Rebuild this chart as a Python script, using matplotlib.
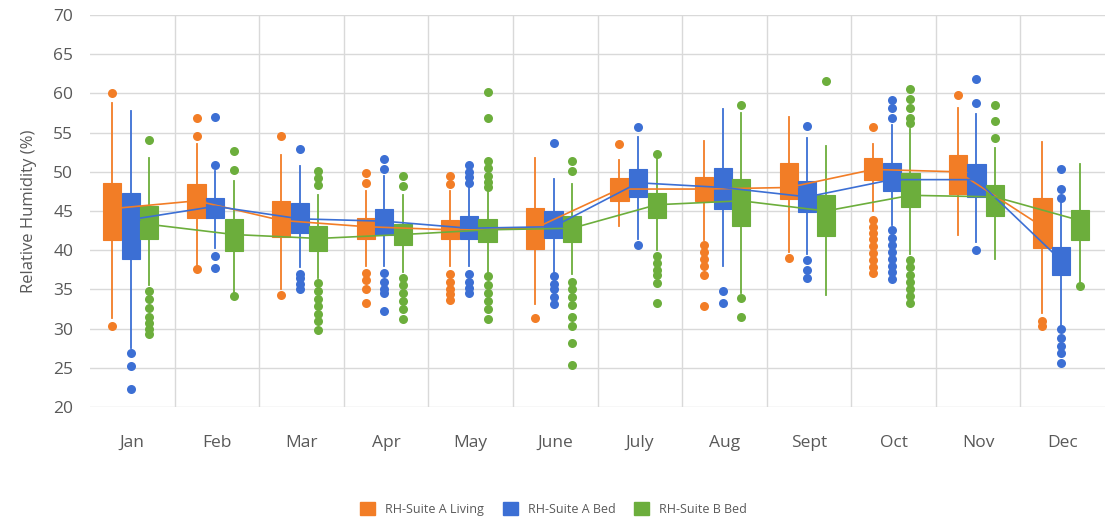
import matplotlib.pyplot as plt
from matplotlib.patches import Patch

plt.rcParams['font.family'] = ['Open Sans', 'DejaVu Sans']

months = ['Jan', 'Feb', 'Mar', 'Apr', 'May', 'June', 'July', 'Aug', 'Sept', 'Oct', 'Nov', 'Dec']
series_names = ['RH-Suite A Living', 'RH-Suite A Bed', 'RH-Suite B Bed']
colors = ['#F27D26', '#3C6FD4', '#6CAE3C']

# RH-Suite A Living
liv_q1 = [41.3, 44.1, 41.7, 41.4, 41.4, 40.2, 46.3, 46.3, 46.5, 49.0, 47.2, 40.3]
liv_q3 = [48.6, 48.5, 46.3, 44.1, 43.9, 45.4, 49.2, 49.4, 51.1, 51.7, 52.1, 46.6]
liv_lo = [31.4, 38.0, 35.0, 38.0, 38.0, 33.2, 43.1, 41.3, 39.8, 45.0, 42.0, 32.0]
liv_hi = [58.8, 53.5, 52.2, 47.5, 47.5, 51.8, 51.5, 53.9, 57.0, 53.5, 58.2, 53.8]
liv_mean = [45.3, 46.3, 43.8, 43.0, 42.6, 42.8, 47.8, 47.8, 48.0, 50.3, 50.0, 43.0]
liv_out = [[60.0, 30.3], [56.9, 54.6, 37.6], [54.6, 34.3],
           [49.9, 48.6, 37.1, 36.2, 35.1, 33.3],
           [49.5, 48.4, 37.0, 36.0, 35.0, 34.4, 33.6], [31.4], [53.5],
           [40.7, 39.8, 38.9, 38.0, 36.8, 32.9], [39.0],
           [55.7, 43.9, 43.0, 42.2, 41.4, 40.5, 39.6, 38.7, 37.8, 37.1],
           [59.8], [31.0, 30.3]]

# RH-Suite A Bed
bed_q1 = [38.9, 44.1, 42.2, 42.0, 41.4, 41.5, 46.8, 45.2, 44.9, 47.5, 46.8, 36.8]
bed_q3 = [47.3, 46.6, 46.0, 45.3, 44.3, 45.0, 50.3, 50.5, 48.8, 51.1, 51.0, 40.4]
bed_lo = [27.5, 40.3, 37.8, 38.0, 38.0, 37.2, 41.4, 38.0, 39.5, 43.2, 41.0, 30.5]
bed_hi = [57.7, 50.1, 50.7, 49.5, 48.0, 49.1, 54.5, 58.0, 54.3, 56.0, 57.4, 46.0]
bed_mean = [43.9, 45.6, 44.0, 43.7, 42.8, 43.0, 48.6, 48.0, 46.8, 49.0, 49.0, 38.7]
bed_out = [[26.9, 25.2, 22.3], [57.0, 50.9, 39.3, 37.7], [52.9, 37.0, 36.4, 35.7, 35.0],
           [51.6, 50.3, 37.1, 36.0, 35.0, 34.5, 32.3],
           [50.9, 50.0, 49.4, 48.6, 37.0, 36.0, 35.2, 34.6],
           [53.7, 36.7, 35.7, 35.0, 34.0, 33.1], [55.7, 40.7], [34.8, 33.3],
           [55.9, 38.8, 37.5, 36.5],
           [59.2, 58.1, 56.8, 42.6, 41.6, 40.7, 39.8, 38.9, 38.0, 37.2, 36.3],
           [61.8, 58.8, 40.0], [50.4, 47.8, 46.6, 29.9, 28.8, 27.8, 26.9, 25.6]]

# RH-Suite B Bed
bb_q1 = [41.4, 39.9, 39.9, 40.6, 41.1, 41.0, 44.1, 43.1, 41.8, 45.5, 44.3, 41.3]
bb_q3 = [45.7, 44.0, 43.1, 43.4, 44.0, 44.3, 47.3, 49.1, 47.0, 49.8, 48.3, 45.1]
bb_lo = [35.5, 34.5, 36.5, 37.2, 37.2, 37.0, 40.0, 34.5, 34.3, 39.5, 38.9, 36.0]
bb_hi = [51.7, 48.8, 47.0, 47.0, 47.5, 48.5, 52.0, 57.5, 53.3, 55.5, 53.0, 51.0]
bb_mean = [43.3, 42.0, 41.5, 42.0, 42.6, 42.8, 45.8, 46.3, 45.0, 47.0, 46.8, 43.8]
bb_out = [[54.1, 34.8, 33.8, 32.6, 31.5, 30.7, 30.0, 29.3], [52.6, 50.2, 34.1],
          [50.1, 49.2, 48.3, 35.8, 34.8, 33.8, 32.9, 31.9, 31.0, 29.8],
          [49.5, 48.2, 36.5, 35.5, 34.5, 33.5, 32.5, 31.2],
          [60.2, 56.8, 51.4, 50.5, 49.5, 48.7, 48.0, 36.7, 35.6, 34.5, 33.5, 32.5, 31.2],
          [51.4, 50.1, 36.0, 35.0, 34.0, 33.0, 31.5, 30.3, 28.1, 25.4],
          [52.3, 39.2, 38.4, 37.5, 36.8, 35.8, 33.3], [58.5, 33.9, 31.5], [61.6],
          [60.5, 59.3, 58.1, 56.9, 56.2, 38.8, 37.8, 36.9, 36.0, 35.1, 34.2, 33.3],
          [58.5, 56.5, 54.3], [35.4]]

series = [
    (liv_q1, liv_q3, liv_lo, liv_hi, liv_mean, liv_out),
    (bed_q1, bed_q3, bed_lo, bed_hi, bed_mean, bed_out),
    (bb_q1, bb_q3, bb_lo, bb_hi, bb_mean, bb_out),
]

fig = plt.figure(figsize=(11.07, 5.21), dpi=100)
ax = fig.add_axes([90 / 1107, 1 - 407 / 521, 1015 / 1107, 392 / 521])

offsets = [-0.24, -0.02, 0.2]
for (q1, q3, lo, hi, mean, out), off, col in zip(series, offsets, colors):
    stats = []
    for i in range(len(months)):
        stats.append({'q1': q1[i], 'q3': q3[i], 'whislo': lo[i], 'whishi': hi[i],
                      'med': mean[i], 'mean': mean[i], 'fliers': out[i]})
    pos = [i + off for i in range(len(months))]
    ax.bxp(stats, positions=pos, widths=0.215, patch_artist=True, showcaps=False,
           showfliers=True,
           boxprops=dict(facecolor=col, edgecolor=col, linewidth=0.8),
           whiskerprops=dict(color=col, linewidth=1.3),
           medianprops=dict(color=col, linewidth=0.5),
           flierprops=dict(marker='o', markerfacecolor=col, markeredgecolor='none',
                           markersize=6.5))
    ax.plot(pos, mean, color=col, linewidth=1.2, zorder=3)

ax.set_xlim(-0.5, 11.5)
ax.set_ylim(20, 70)
ax.set_yticks(range(20, 71, 5))
ax.set_xticks(range(len(months)))
ax.set_xticklabels(months)
ax.set_xticks([i + 0.5 for i in range(11)], minor=True)
ax.set_axisbelow(True)
ax.yaxis.grid(True, color='#d9d9d9', linewidth=1)
ax.xaxis.grid(True, which='minor', color='#d9d9d9', linewidth=1)
for s in ax.spines.values():
    s.set_visible(False)
ax.tick_params(axis='both', which='both', length=0, labelsize=12.5, colors='#595959')
ax.tick_params(axis='x', pad=20)
ax.tick_params(axis='y', pad=12)
ax.set_ylabel('Relative Humidity (%)', fontsize=12, color='#595959', labelpad=12)

handles = [Patch(facecolor=c, edgecolor=c) for c in colors]
fig.legend(handles, series_names, loc='lower center', bbox_to_anchor=(0.5, -0.012),
           ncol=3, frameon=False, fontsize=9, handlelength=1.2, handleheight=1.2,
           columnspacing=1.5, labelcolor='#595959')

fig.savefig('out.png', dpi=100)
